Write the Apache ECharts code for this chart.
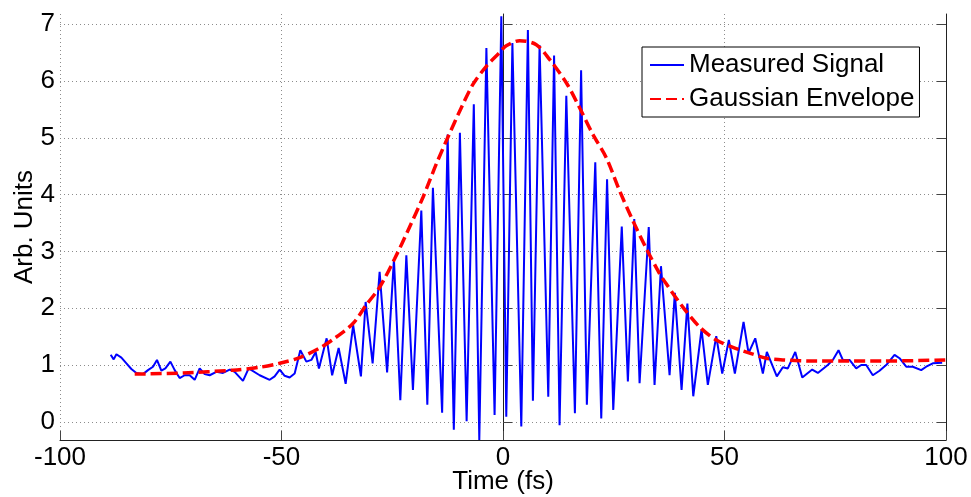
<!DOCTYPE html>
<html><head><meta charset="utf-8">
<script src="https://cdn.jsdelivr.net/npm/echarts@6/dist/echarts.min.js"></script>
<style>html,body{margin:0;padding:0;background:#fff}#c{width:971px;height:497px}</style>
</head><body><div id="c"></div>
<script>
// Measured signal: time (fs) and value (arb. units)
const sigT = [-88.56,-87.88,-87.27,-86.14,-85.01,-83.89,-82.76,-81.27,-80.14,-79.01,-78.11,-77.12,-76.21,-75.08,-74.11,-72.99,-71.86,-70.73,-69.60,-68.47,-67.34,-66.21,-64.70,-63.21,-61.70,-60.57,-58.70,-57.41,-54.93,-52.67,-51.55,-50.42,-49.29,-48.16,-47.03,-45.75,-44.39,-43.26,-42.29,-41.55,-39.81,-38.57,-37.10,-35.52,-33.83,-32.07,-31.01,-29.43,-27.85,-26.16,-24.62,-23.18,-21.82,-20.33,-18.44,-17.08,-15.82,-13.74,-12.50,-11.10,-9.73,-8.21,-6.59,-5.35,-3.75,-1.90,-0.38,0.74,2.12,4.13,5.62,6.75,8.26,10.22,11.53,12.77,14.29,16.23,17.63,18.93,20.83,22.18,23.49,24.89,26.81,28.19,29.63,30.83,32.90,34.21,35.66,37.60,38.79,40.31,41.62,42.95,44.82,46.24,48.14,49.49,50.98,52.34,54.30,55.43,56.94,58.66,59.56,61.81,63.17,64.30,65.97,67.55,69.80,71.07,73.32,74.45,75.74,76.71,78.22,79.73,80.86,81.99,83.48,84.99,86.50,88.38,89.51,91.02,92.51,94.40,95.53,97.02,99.14];
const sigV = [1.18,1.10,1.19,1.13,1.03,0.93,0.86,0.84,0.91,0.97,1.09,0.90,0.94,1.06,0.91,0.77,0.82,0.82,0.74,0.94,0.84,0.82,0.88,0.86,0.92,0.88,0.72,0.94,0.82,0.74,0.80,0.92,0.81,0.78,0.85,1.26,1.06,1.09,1.23,0.94,1.47,0.82,1.30,0.67,1.70,0.80,2.11,1.03,2.64,0.87,2.86,0.38,2.93,0.56,3.72,0.30,4.12,0.16,5.06,-0.14,5.09,0.01,5.59,-0.32,6.58,0.12,7.14,0.09,6.67,-0.08,6.90,0.37,6.63,0.44,6.45,-0.06,5.74,0.15,6.19,0.30,4.57,0.06,4.27,0.21,3.44,0.71,3.57,0.68,3.43,0.65,2.74,0.82,2.27,0.56,2.08,0.45,1.63,0.65,1.51,0.85,1.44,0.85,1.76,1.21,1.47,0.85,1.23,0.80,0.96,0.94,1.23,0.78,0.92,0.86,1.00,1.09,1.26,1.09,1.09,0.94,1.00,1.00,0.82,0.90,1.00,1.18,1.12,0.97,0.97,0.91,0.97,1.03,1.04];
// Gaussian envelope
const envT = [-83.14,-72.24,-60.96,-54.93,-50.42,-45.90,-41.39,-38.39,-33.87,-30.85,-27.85,-24.46,-21.08,-18.08,-15.05,-12.44,-9.41,-6.79,-3.77,-0.77,0.74,3.75,7.52,10.52,14.29,17.29,20.29,23.31,26.31,29.32,32.34,35.34,36.85,40.60,44.38,48.14,51.90,55.67,59.43,63.17,70.71,78.22,85.71,99.90];
const envV = [0.84,0.86,0.91,0.96,1.03,1.13,1.30,1.45,1.73,2.06,2.37,2.87,3.43,3.95,4.54,5.01,5.53,5.94,6.26,6.50,6.62,6.71,6.64,6.38,5.97,5.53,5.06,4.65,4.07,3.54,3.05,2.61,2.43,2.02,1.67,1.44,1.31,1.21,1.12,1.09,1.07,1.07,1.07,1.09];
const xTicks = [-100, -50, 0, 50, 100];
const yTicks = [0, 1, 2, 3, 4, 5, 6, 7];
const seriesNames = ['Measured Signal', 'Gaussian Envelope'];
const xName = 'Time (fs)';
const yName = 'Arb. Units';

const FONT = '"Liberation Sans", Arial, sans-serif';
const pair = (t, v) => t.map((x, i) => [x, v[i]]);
const chart = echarts.init(document.getElementById('c'), null, {renderer: 'canvas'});
const gridLine = {show: true, lineStyle: {color: '#8c8c8c', width: 1, type: [1, 3]}};
const yRange = {min: -0.32, max: 7.18};
chart.setOption({
  animation: false,
  backgroundColor: '#fff',
  grid: {left: 60, right: 25, top: 14, bottom: 57, outerBoundsMode: 'none', containLabel: false},
  legend: {
    orient: 'vertical', left: 642, top: 47,
    backgroundColor: '#fff', borderColor: '#000', borderWidth: 1,
    padding: [3, 5, 3, 7], itemGap: 4, itemWidth: 34, itemHeight: 14,
    itemStyle: {opacity: 0},
    textStyle: {fontFamily: FONT, fontSize: 26, color: '#000', lineHeight: 30},
    data: seriesNames
  },
  xAxis: {
    type: 'value', min: xTicks[0], max: xTicks[xTicks.length - 1], interval: 50,
    name: xName, nameLocation: 'middle', nameGap: 29, nameMoveOverlap: false,
    nameTextStyle: {fontFamily: FONT, fontSize: 26, color: '#000'},
    axisLine: {show: true, onZero: false, lineStyle: {color: '#222', width: 1}},
    axisTick: {show: true, inside: true, length: 9, lineStyle: {color: '#444'}},
    axisLabel: {fontFamily: FONT, fontSize: 26, color: '#000', margin: 5},
    splitLine: gridLine
  },
  yAxis: [{
    type: 'value', min: yRange.min, max: yRange.max,
    name: yName, nameLocation: 'middle', nameGap: 22, nameMoveOverlap: false,
    nameTextStyle: {fontFamily: FONT, fontSize: 26, color: '#000'},
    axisLine: {show: true, lineStyle: {color: '#222', width: 1}},
    axisTick: {show: true, inside: true, length: 9, lineStyle: {color: '#444'}, customValues: yTicks},
    axisLabel: {fontFamily: FONT, fontSize: 26, color: '#000', margin: 5, customValues: yTicks},
    splitLine: gridLine
  }, {
    type: 'value', min: yRange.min, max: yRange.max, position: 'right',
    axisLine: {show: true, lineStyle: {color: '#222', width: 1}},
    axisTick: {show: true, inside: true, length: 9, lineStyle: {color: '#444'}, customValues: yTicks},
    axisLabel: {show: false},
    splitLine: {show: false}
  }],
  series: [
    {name: seriesNames[0], type: 'line', data: pair(sigT, sigV), showSymbol: false, symbol: 'none',
     lineStyle: {color: '#0000ff', width: 2}, itemStyle: {color: '#0000ff'}, z: 2},
    {name: seriesNames[1], type: 'line', data: pair(envT, envV), showSymbol: false, symbol: 'none', smooth: 0.3,
     lineStyle: {color: '#ff0000', width: 3.5, type: [11, 5]}, itemStyle: {color: '#ff0000'}, z: 3}
  ]
});
</script>
</body></html>
